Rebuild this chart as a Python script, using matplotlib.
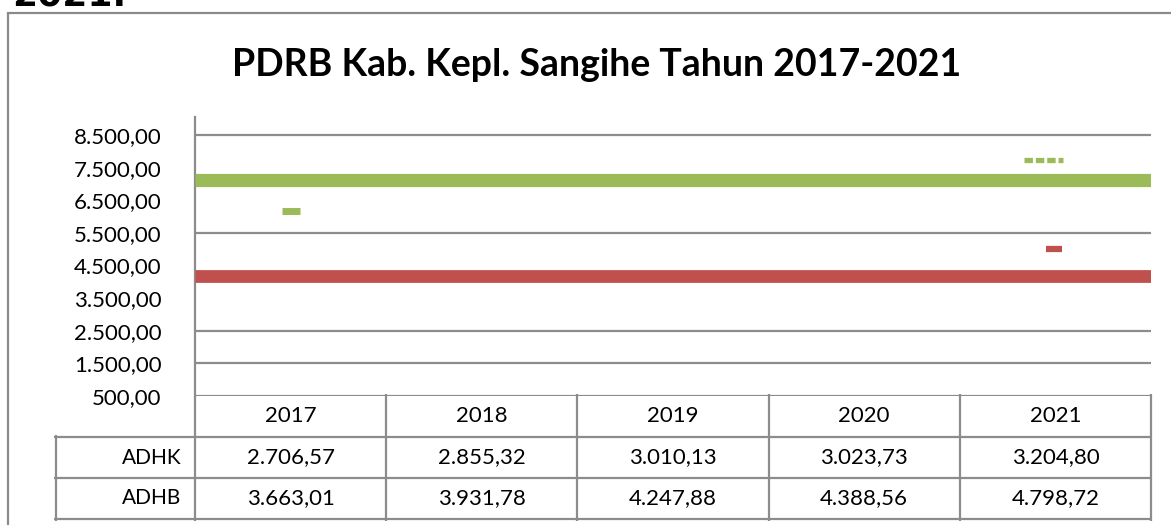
import numpy as np
import matplotlib as mpl
mpl.use("Agg")
import matplotlib.pyplot as plt

plt.rcParams['font.family'] = ['Lato', 'DejaVu Sans']

# data
years = ['2017', '2018', '2019', '2020', '2021']
adhk = [2706.57, 2855.32, 3010.13, 3023.73, 3204.80]
adhb = [3663.01, 3931.78, 4247.88, 4388.56, 4798.72]
row_names = ['ADHK', 'ADHB']

# values of the marks as drawn in the picture
green_band = 7126.0
red_band = 4164.0
green_mark_2017 = 6164.0
green_dash_2021 = 7737.0
red_mark_2021 = 5019.0

y_ticks = [500, 1500, 2500, 3500, 4500, 5500, 6500, 7500, 8500]
grid_shown = [500, 1500, 2500, 5500, 8500]

green = '#9BBB59'
red = '#C0504D'
gray = '#8c8c8c'

W, H = 1171, 525
fig = plt.figure(figsize=(W / 100, H / 100), dpi=100)

def px(x0, y0, x1, y1):
    # pixel box -> figure fraction [left, bottom, width, height]
    return [x0 / W, 1 - y1 / H, (x1 - x0) / W, (y1 - y0) / H]

# outer chart border
fig.patches.append(plt.Rectangle((8 / W, -0.1), 1.2, 1 - 13 / H + 0.1,
                                 transform=fig.transFigure, fill=False,
                                 edgecolor='#8a8a8a', linewidth=1.6))
fig.text(12 / W, 1 - 5 / H, '2021.', fontsize=26, fontweight='bold',
         va='baseline', ha='left', family=['DejaVu Sans'])

fig.text(597 / W, 1 - 76 / H, 'PDRB Kab. Kepl. Sangihe Tahun 2017-2021',
         fontsize=27, fontweight='bold', ha='center', va='baseline')

# plot area
ax = fig.add_axes(px(195, 117, 1151, 396))
x = np.arange(len(years))
ax.set_xlim(-0.5, len(years) - 0.5)
ax.set_ylim(500, 500 + (396 - 117) / 32.625 * 1000)
for s in ['top', 'right', 'bottom']:
    ax.spines[s].set_visible(False)
ax.spines['left'].set_color(gray)
ax.spines['left'].set_linewidth(1.6)
ax.hlines(grid_shown, -0.5, len(years) - 0.5, color=gray, linewidth=1.6,
          zorder=1)
ax.set_xticks([])
ax.set_yticks(y_ticks)
ax.set_yticklabels([f'{v:,.2f}'.replace(',', ' ').replace('.', ',').replace(' ', '.')
                    for v in y_ticks], fontsize=16)
ax.tick_params(axis='y', length=0, pad=24)

ax.plot([-0.5, len(years) - 0.5], [green_band, green_band], color=green,
        linewidth=9.5, solid_capstyle='butt', zorder=3)
ax.plot([-0.5, len(years) - 0.5], [red_band, red_band], color=red,
        linewidth=9.2, solid_capstyle='butt', zorder=3)
ax.plot([x[0] - 0.045, x[0] + 0.05], [green_mark_2017] * 2, color=green,
        linewidth=5, solid_capstyle='butt', zorder=3)
ax.plot([x[4] - 0.162, x[4] + 0.042], [green_dash_2021] * 2, color=green,
        linewidth=3.8, linestyle=(0, (1.6, 0.55)), solid_capstyle='butt',
        dash_capstyle='butt', zorder=3)
ax.plot([x[4] - 0.047, x[4] + 0.037], [red_mark_2021] * 2, color=red,
        linewidth=4.5, solid_capstyle='butt', zorder=3)

# data table below the plot
tax = fig.add_axes(px(195, 396, 1151, 519))
tax.set_xlim(-0.5, len(years) - 0.5)
tax.set_ylim(3, 0)
tax.axis('off')
left_edge = -0.5 - (195 - 56) / ((1151 - 195) / len(years))
lk = dict(color=gray, linewidth=1.6, clip_on=False, solid_capstyle='butt')
for r in [1, 2, 3]:
    tax.plot([left_edge - 0.01, len(years) - 0.5], [r, r], **lk)
tax.plot([left_edge, left_edge], [0.95, 3.05], **lk)
tax.plot([-0.5, -0.5], [0, 3.05], **lk)
for c in np.arange(len(years)) + 0.5:
    tax.plot([c, c], [-0.05, 3.05], **lk)

def fmt(v):
    return f'{v:,.2f}'.replace(',', ' ').replace('.', ',').replace(' ', '.')

for i, yr in enumerate(years):
    tax.text(i, 0.5, yr, ha='center', va='center', fontsize=16)
    tax.text(i, 1.5, fmt(adhk[i]), ha='center', va='center', fontsize=16)
    tax.text(i, 2.5, fmt(adhb[i]), ha='center', va='center', fontsize=16)
for r, name in enumerate(row_names):
    tax.text(-0.5 - 0.07, r + 1.5, name, ha='right', va='center', fontsize=15)

fig.savefig('out.png', dpi=100)
